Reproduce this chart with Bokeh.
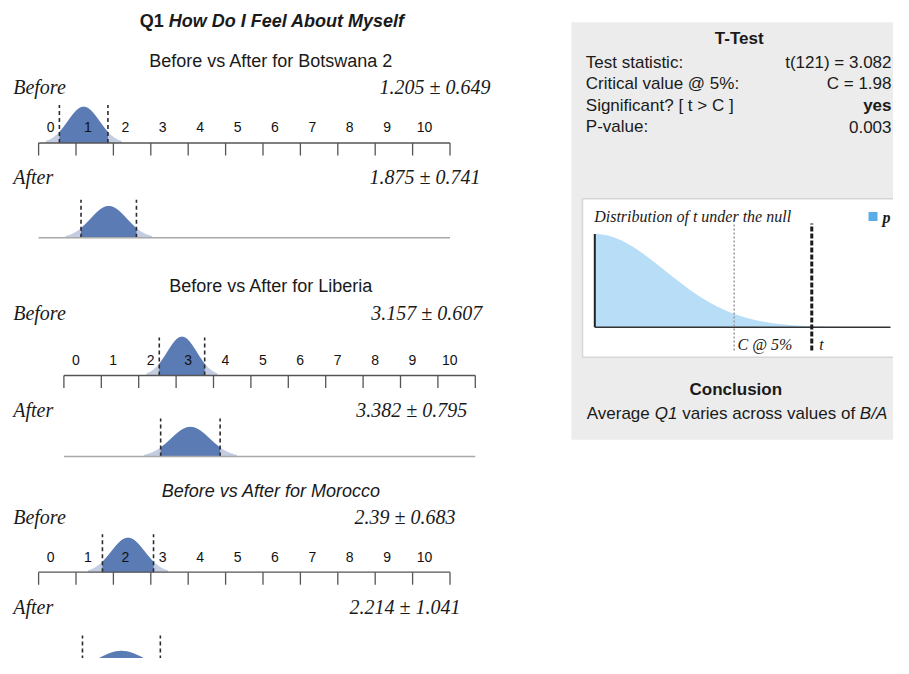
import math
import numpy as np
from bokeh.plotting import figure
from bokeh.models import Range1d
from bokeh.core.properties import value
from bokeh.embed import file_html
from bokeh.resources import INLINE

# ---------------- data ----------------
TITLE_Q = "Q1"
TITLE_REST = "How Do I Feel About Myself"
countries = ["Botswana 2", "Liberia", "Morocco"]
before_mean = [1.205, 3.157, 2.39]
before_sd = [0.649, 0.607, 0.683]
after_mean = [1.875, 3.382, 2.214]
after_sd = [0.741, 0.795, 1.041]
before_text = ["1.205 ± 0.649", "3.157 ± 0.607", "2.39 ± 0.683"]
after_text = ["1.875 ± 0.741", "3.382 ± 0.795", "2.214 ± 1.041"]
scale_labels = ["0", "1", "2", "3", "4", "5", "6", "7", "8", "9", "10"]
scale_label_values = [0, 1, 2, 3, 4, 5, 6, 7, 8, 9, 10]
tick_values = [0, 1, 2, 3, 4, 5, 6, 7, 8, 9, 10, 11]

ttest_labels = ["Test statistic:", "Critical value @ 5%:", "Significant? [ t > C ]", "P-value:"]
ttest_values = ["t(121) = 3.082", "C = 1.98", "yes", "0.003"]
t_df = 121
t_stat = 3.082
t_crit = 1.98
t_max = 4.2

# ---------------- layout (picture pixels) ----------------
W, H = 893, 658
PX_UNIT = 37.4     # px per scale unit
CURVE_W = 0.65     # curve width relative to the sd (dashed lines at mean +- sd)
PX_DENS = 38.4     # px per density unit of the drawn curve
panels = [
    dict(x0=38.1, title_y=60.0, before_y=86.7, after_y=176.7, label_y=126.7, axis_y=142.5,
         after_base=237.3, before_rx=490.0, after_rx=480.0, italic=False),
    dict(x0=63.4, title_y=285.0, before_y=312.7, after_y=409.3, label_y=359.0, axis_y=375.0,
         after_base=456.0, before_rx=481.7, after_rx=466.7, italic=False),
    dict(x0=38.1, title_y=490.0, before_y=516.7, after_y=606.7, label_y=556.0, axis_y=571.7,
         after_base=673.0, before_rx=455.0, after_rx=460.0, italic=True),
]
RDX = -8  # right panel horizontal shift so it fits inside the figure

SANS = "Liberation Sans"
SERIF = "Liberation Serif"
DARK = "#5b7bb5"
TAIL = "#c3cce0"

p = figure(width=W, height=H, x_range=Range1d(0, W), y_range=Range1d(H, 0),
           output_backend="svg", toolbar_location=None, min_border=0,
           x_axis_type=None, y_axis_type=None)
p.outline_line_color = None
p.background_fill_color = "white"


def txt(x, y, s, size, font=SANS, style="normal", align="left", color="#1a1a1a", **kw):
    p.text(x=[x], y=[y], text=[s], text_font=value(font), text_font_size=f"{size}px",
           text_font_style=style, text_align=align, text_baseline="middle",
           text_color=color, **kw)


ARIAL = {" ": 278, "A": 667, "B": 667, "C": 722, "Q": 778, "a": 556, "c": 500, "e": 556,
         "f": 278, "g": 556, "i": 222, "l": 222, "n": 556, "o": 556, "r": 333, "s": 500,
         "u": 556, "v": 500, "1": 556, "/": 278}
ARIAL_B = {" ": 278, "Q": 778, "1": 556, "H": 722, "o": 611, "w": 778, "D": 722, "I": 278,
           "F": 611, "e": 556, "l": 278, "A": 722, "b": 611, "u": 611, "t": 333, "M": 833,
           "y": 556, "s": 556, "f": 333}


def width(s, size, table):
    return sum(table[c] for c in s) / 1000.0 * size


def normal_pdf(x, m, s):
    return np.exp(-0.5 * ((x - m) / s) ** 2) / (s * math.sqrt(2 * math.pi))


def t_pdf(x, df):
    c = math.exp(math.lgamma((df + 1) / 2) - math.lgamma(df / 2)) / math.sqrt(df * math.pi)
    return c * (1 + x ** 2 / df) ** (-(df + 1) / 2)


# ---------------- main title ----------------
tsz = 18
w_q = width(TITLE_Q + " ", tsz, ARIAL_B)
w_all = w_q + width(TITLE_REST, tsz, ARIAL_B)
start = 271.7 - w_all / 2
txt(start, 20.7, TITLE_Q, tsz, style="bold")
txt(start + w_q, 20.7, TITLE_REST, tsz, style="bold italic")

# ---------------- panels ----------------
for i, pn in enumerate(panels):
    xr = f"x{i}"
    p.extra_x_ranges[xr] = Range1d((0 - pn["x0"]) / PX_UNIT, (W - pn["x0"]) / PX_UNIT)
    yb_b, yb_a = f"yb{i}", f"ya{i}"
    for name, base in ((yb_b, pn["axis_y"]), (yb_a, pn["after_base"])):
        p.extra_y_ranges[name] = Range1d((base - H) / PX_DENS, base / PX_DENS)

    txt(270.7, pn["title_y"], f"Before vs After for {countries[i]}", 18,
        style="italic" if pn["italic"] else "normal", align="center")
    txt(12.7, pn["before_y"], "Before", 20, font=SERIF, style="italic")
    txt(12.7, pn["after_y"], "After", 20, font=SERIF, style="italic")
    txt(pn["before_rx"], pn["before_y"], before_text[i], 20, font=SERIF, style="italic", align="right")
    txt(pn["after_rx"], pn["after_y"], after_text[i], 20, font=SERIF, style="italic", align="right")

    for (m, s, yname) in ((before_mean[i], before_sd[i], yb_b), (after_mean[i], after_sd[i], yb_a)):
        sc = CURVE_W * s
        xs = np.linspace(m - 2.4 * sc, m + 2.4 * sc, 240)
        p.varea(x=xs, y1=np.zeros_like(xs), y2=normal_pdf(xs, m, sc), fill_color=TAIL,
                x_range_name=xr, y_range_name=yname)
        xc = np.linspace(m - s, m + s, 160)
        p.varea(x=xc, y1=np.zeros_like(xc), y2=normal_pdf(xc, m, sc), fill_color=DARK,
                x_range_name=xr, y_range_name=yname)
        hd = 38.0 / PX_DENS
        p.segment(x0=[m - s, m + s], y0=[0, 0], x1=[m - s, m + s], y1=[hd, hd],
                  line_color="#2b2b2b", line_width=1.6, line_dash="4 3",
                  x_range_name=xr, y_range_name=yname)

    # number line
    p.segment(x0=[tick_values[0]], x1=[tick_values[-1]], y0=[pn["axis_y"]], y1=[pn["axis_y"]],
              line_color="#555555", line_width=1.3, x_range_name=xr)
    p.segment(x0=tick_values, x1=tick_values, y0=[pn["axis_y"]] * len(tick_values),
              y1=[pn["axis_y"] + 12.5] * len(tick_values), line_color="#555555",
              line_width=1.3, x_range_name=xr)
    p.text(x=[v + 0.32 for v in scale_label_values], y=[pn["label_y"]] * len(scale_labels),
           text=scale_labels, text_font=value(SANS), text_font_size="14px",
           text_align="center", text_baseline="middle", text_color="#111111",
           x_range_name=xr)
    # after baseline
    p.segment(x0=[tick_values[0]], x1=[tick_values[-1]], y0=[pn["after_base"]],
              y1=[pn["after_base"]], line_color="#a8a8a8", line_width=1.5, x_range_name=xr)

# ---------------- right panel ----------------
RX_RIGHT = 891
p.quad(left=[579 + RDX], right=[W + 5], top=[21.7], bottom=[439.3], fill_color="#ececec", line_color=None)
txt(746.7 + RDX, 38.3, "T-Test", 17, style="bold", align="center")
row_y = [61.7, 83.3, 105.0, 126.0]
for lab, val, yy in zip(ttest_labels, ttest_values, row_y):
    txt(593.3 + RDX, yy, lab, 17)
    txt(RX_RIGHT, yy, val, 17, style="bold" if val == "yes" else "normal", align="right")

# inner white box
p.quad(left=[590 + RDX], right=[W + 5], top=[198.3], bottom=[356.7], fill_color="white",
       line_color="#d6d6d6", line_width=1.5)

TX0, TPX = 602.3 + RDX, 70.4
TY0, TPY = 326.7, 234.0
p.extra_x_ranges["tx"] = Range1d((0 - TX0) / TPX, (W - TX0) / TPX)
p.extra_y_ranges["ty"] = Range1d((TY0 - H) / TPY, TY0 / TPY)
ts = np.linspace(0, t_max, 300)
p.varea(x=ts, y1=np.zeros_like(ts), y2=t_pdf(ts, t_df), fill_color="#b7ddf7",
        x_range_name="tx", y_range_name="ty")
peak = float(t_pdf(0.0, t_df))
p.segment(x0=[0], y0=[0], x1=[0], y1=[peak], line_color="#222222", line_width=2,
          x_range_name="tx", y_range_name="ty")
p.segment(x0=[0], y0=[0], x1=[t_max], y1=[0], line_color="#333333", line_width=1.6,
          x_range_name="tx", y_range_name="ty")
p.segment(x0=[t_crit], y0=[-23.3 / TPY], x1=[t_crit], y1=[103.7 / TPY], line_color="#9a9a9a",
          line_width=1.5, line_dash="2 2", x_range_name="tx", y_range_name="ty")
p.segment(x0=[t_stat], y0=[-23.3 / TPY], x1=[t_stat], y1=[103.7 / TPY], line_color="#1a1a1a",
          line_width=3, line_dash="5 2", x_range_name="tx", y_range_name="ty")
txt(601.7 + RDX, 216, "Distribution of t under the null", 16, font=SERIF, style="italic")
p.quad(left=[876 + RDX], right=[885 + RDX], top=[211.5], bottom=[220.5], fill_color="#5aaee6", line_color=None)
txt(890 + RDX, 216.5, "p", 16, font=SERIF, style="bold italic")
txt(745 + RDX, 344, "C @ 5%", 16, font=SERIF, style="italic")
txt(826.7 + RDX, 344, "t", 16, font=SERIF, style="italic")

# conclusion
txt(743.3 + RDX, 389.3, "Conclusion", 17, style="bold", align="center")
csz = 17
pieces = [("Average ", "normal"), ("Q1", "italic"), (" varies across values of ", "normal"), ("B/A", "italic")]
total = sum(width(s, csz, ARIAL) for s, _ in pieces)
cx = 744.5 + RDX - total / 2
for s, st in pieces:
    lead = width(s[:len(s) - len(s.lstrip())], csz, ARIAL)
    txt(cx + lead, 412.7, s.strip(), csz, style=st)
    cx += width(s, csz, ARIAL)

open("out.html", "w").write(file_html(p, INLINE))
